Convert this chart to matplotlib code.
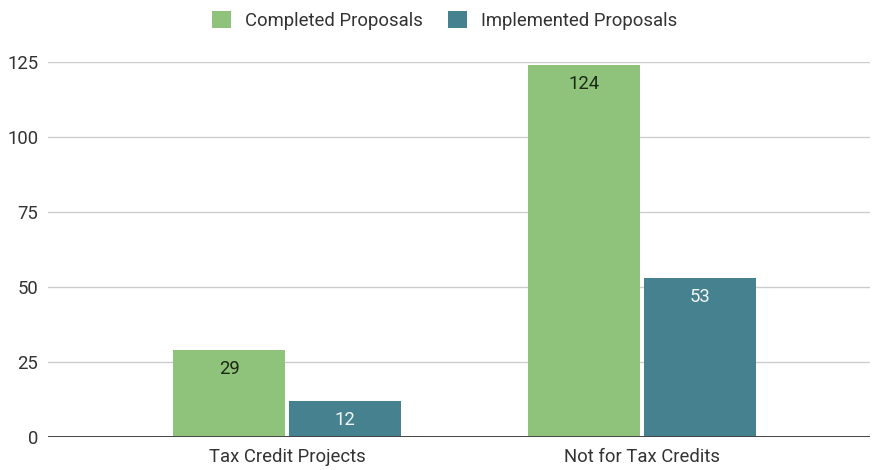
import matplotlib.pyplot as plt
import numpy as np

plt.rcParams['font.family'] = ['Roboto', 'DejaVu Sans']

categories = ["Tax Credit Projects", "Not for Tax Credits"]
series_names = ["Completed Proposals", "Implemented Proposals"]
completed = [29, 124]
implemented = [12, 53]
y_ticks = [0, 25, 50, 75, 100, 125]

colors = ["#8fc27a", "#45818e"]
label_colors = ["#1b2a14", "#f2f6f7"]
fs = 13.3

fig = plt.figure(figsize=(8.72, 4.70), dpi=100)
ax = fig.add_axes([48 / 872, 1 - 437 / 470, 822 / 872, 375 / 470])

x = np.arange(len(categories))
width = 0.315
gap = 0.005
offsets = [-(width / 2 + gap), width / 2 + gap]

for vals, off, col, lcol, name in zip([completed, implemented], offsets, colors, label_colors, series_names):
    bars = ax.bar(x + off, vals, width, color=col, label=name, zorder=3)
    for b, v in zip(bars, vals):
        ax.annotate(str(v), (b.get_x() + b.get_width() / 2, v), xytext=(0, -14),
                    textcoords="offset points", ha="center", va="center",
                    fontsize=fs, color=lcol, zorder=4)

ax.set_xlim(-0.673, 1.642)
ax.set_ylim(0, 125)
ax.set_yticks(y_ticks)
ax.set_xticks(x)
ax.set_xticklabels(categories)
ax.grid(axis="y", color="#cccccc", linewidth=1, zorder=0)
ax.axhline(0, color="#444444", linewidth=1.4, zorder=5)
for s in ax.spines.values():
    s.set_visible(False)
ax.tick_params(axis="both", length=0, labelsize=fs, colors="#333333")
ax.tick_params(axis="y", pad=7)
ax.tick_params(axis="x", pad=8)
for t in ax.get_yticklabels() + ax.get_xticklabels():
    t.set_clip_on(False)

handles, labels = ax.get_legend_handles_labels()
fig.legend(handles, labels, loc="upper center", bbox_to_anchor=(0.5098, 1.012), ncol=2,
           frameon=False, fontsize=fs, handlelength=1.0, handleheight=1.0,
           handletextpad=0.76, columnspacing=1.4, labelcolor="#333333")

fig.savefig("out.png", dpi=100)
